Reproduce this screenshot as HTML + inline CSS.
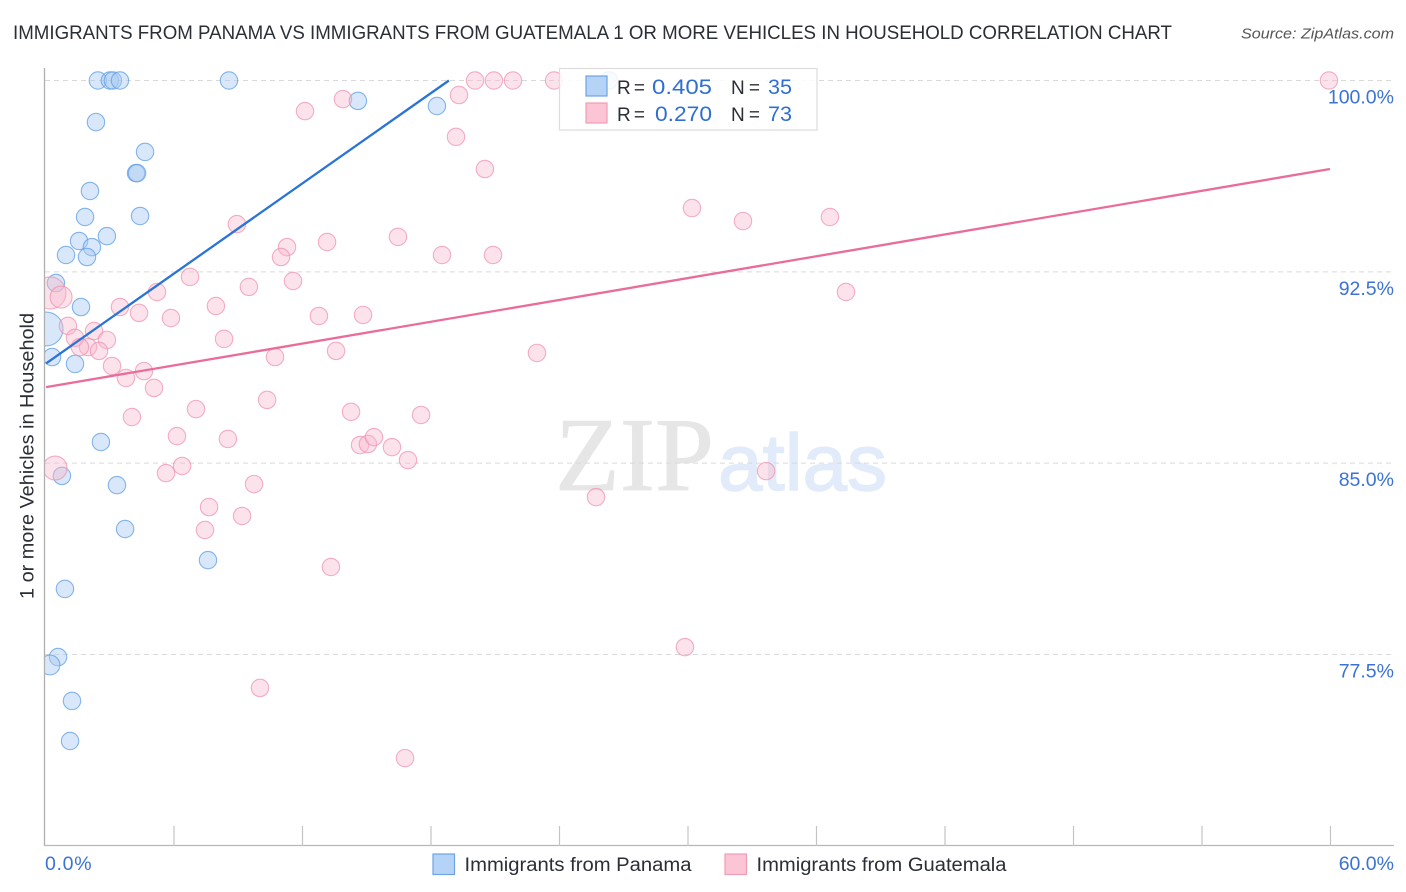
<!DOCTYPE html>
<html lang="en">
<head>
<meta charset="utf-8">
<title>Immigrants from Panama vs Immigrants from Guatemala correlation chart</title>
<style>
html,body{margin:0;padding:0;background:#fff;width:1406px;height:892px;overflow:hidden}
svg{display:block;font-family:"Liberation Sans",sans-serif}
</style>
</head>
<body>
<svg id="chart" xmlns="http://www.w3.org/2000/svg" width="1406" height="892" viewBox="0 0 1406 892">
  <defs>
    <clipPath id="plot-clip"><rect x="45" y="60" width="1349" height="786"/></clipPath>
  </defs>
  <rect x="0" y="0" width="1406" height="892" fill="#fff"/>
  <text x="13" y="39" font-size="19.5" fill="#2a2f36" textLength="1159" lengthAdjust="spacingAndGlyphs">IMMIGRANTS FROM PANAMA VS IMMIGRANTS FROM GUATEMALA 1 OR MORE VEHICLES IN HOUSEHOLD CORRELATION CHART</text>
  <text x="1241" y="38.5" font-size="15" font-style="italic" fill="#555" textLength="153" lengthAdjust="spacingAndGlyphs">Source: ZipAtlas.com</text>
  <g>
    <text x="555" y="490" font-family="'Liberation Serif',serif" font-size="105" fill="#e6e6e6" stroke="#e6e6e6" stroke-width="0.8" textLength="159" lengthAdjust="spacingAndGlyphs">ZIP</text>
    <text x="718" y="490" font-size="80" fill="#e2ebf9" stroke="#e2ebf9" stroke-width="1.4" textLength="169" lengthAdjust="spacingAndGlyphs">atlas</text>
  </g>
  <g id="grid"></g>
  <g id="axes"></g>
  <g id="points" clip-path="url(#plot-clip)"></g>
  <g id="trends"></g>
  <g id="tick-labels"></g>
  <text transform="translate(33.5,456) rotate(-90)" text-anchor="middle" font-size="19" fill="#2a2f36" textLength="286" lengthAdjust="spacingAndGlyphs">1 or more Vehicles in Household</text>

  <g>
    <rect x="559.5" y="68.5" width="257.5" height="61.5" fill="#fff" fill-opacity="0.85" stroke="#dcdcdc" stroke-width="1.2"/>
    <rect x="586" y="76" width="21" height="20" fill="#b5d2f7" stroke="#6fa3e4" stroke-width="1.2"/>
    <rect x="586" y="103" width="21" height="20" fill="#fcc5d6" stroke="#ef9db6" stroke-width="1.2"/>
    <text x="617" y="94" font-size="19" fill="#2a2f36" textLength="28" lengthAdjust="spacing">R =</text>
    <text x="652" y="94" font-size="21" fill="#2f6fd3" textLength="60" lengthAdjust="spacingAndGlyphs">0.405</text>
    <text x="731" y="94" font-size="19" fill="#2a2f36" textLength="29" lengthAdjust="spacing">N =</text>
    <text x="768" y="94" font-size="21" fill="#2f6fd3" textLength="24" lengthAdjust="spacingAndGlyphs">35</text>
    <text x="617" y="121" font-size="19" fill="#2a2f36" textLength="28" lengthAdjust="spacing">R =</text>
    <text x="655" y="121" font-size="21" fill="#2f6fd3" textLength="57" lengthAdjust="spacingAndGlyphs">0.270</text>
    <text x="731" y="121" font-size="19" fill="#2a2f36" textLength="29" lengthAdjust="spacing">N =</text>
    <text x="768" y="121" font-size="21" fill="#2f6fd3" textLength="24" lengthAdjust="spacingAndGlyphs">73</text>
  </g>

  <g>
    <rect x="433" y="854" width="21.5" height="20.5" fill="#b5d2f7" stroke="#6fa3e4" stroke-width="1.2"/>
    <text x="464.5" y="871" font-size="19" fill="#2a2f36" textLength="227" lengthAdjust="spacingAndGlyphs">Immigrants from Panama</text>
    <rect x="725" y="854" width="21.5" height="20.5" fill="#fcc5d6" stroke="#ef9db6" stroke-width="1.2"/>
    <text x="756.5" y="871" font-size="19" fill="#2a2f36" textLength="250" lengthAdjust="spacingAndGlyphs">Immigrants from Guatemala</text>
  </g>
</svg>
<script>
const panamaX = [2.47,3.03,3.17,3.50,8.59,26.33,2.38,14.61,18.30,4.67,4.25,4.30,2.10,1.87,4.44,2.89,1.59,2.19,1.96,0.98,0.51,1.68,0.05,0.33,1.40,2.61,0.79,3.36,3.74,7.61,0.93,0.61,0.23,1.26,1.17];
const panamaY = [100,100,100,100,100,100,98.37,99.20,99.00,97.20,96.37,96.37,95.67,94.65,94.69,93.90,93.71,93.47,93.08,93.16,92.06,91.12,90.26,89.16,88.89,85.83,84.50,84.14,82.42,81.20,80.07,77.40,77.09,75.68,74.11];
const panamaWeight = [1,1,1,1,1,1,1,1,1,1,1,1,1,1,1,1,1,1,1,1,1,1,3.8,1,1,1,1,1,1,1,1,1,1.3,1,1];

const guatemalaX = [59.95,23.77,20.08,20.96,21.85,19.33,13.91,12.14,19.19,20.54,30.21,32.59,36.65,8.96,16.48,13.17,11.30,11.02,18.54,20.92,6.77,11.58,9.52,37.40,5.23,0.23,0.75,3.50,7.98,4.39,5.88,12.79,14.85,1.07,2.29,8.36,1.40,2.89,2.01,1.63,2.52,13.59,10.74,22.97,3.13,4.62,3.78,5.09,10.37,7.05,4.06,14.29,17.56,6.16,8.54,14.71,15.08,15.36,16.20,16.95,6.40,5.65,0.47,33.67,9.76,25.73,7.66,9.20,7.47,13.35,29.88,10.04,16.81];
const guatemalaY = [100,100,100,100,100,99.43,99.27,98.80,97.79,96.53,95.00,94.49,94.65,94.37,93.87,93.67,93.47,93.08,93.16,93.16,92.30,92.14,91.91,91.71,91.71,91.67,91.51,91.12,91.16,90.89,90.69,90.77,90.81,90.38,90.18,89.87,89.91,89.83,89.55,89.55,89.40,89.40,89.16,89.32,88.81,88.61,88.34,87.95,87.48,87.12,86.81,87.01,86.89,86.06,85.95,85.71,85.75,86.02,85.63,85.12,84.89,84.61,84.81,84.69,84.18,83.67,83.28,82.93,82.38,80.93,77.79,76.19,73.44];
const guatemalaWeight = [1,1,1,1,1,1,1,1,1,1,1,1,1,1,1,1,1,1,1,1,1,1,1,1,1,3.4,1.6,1,1,1,1,1,1,1,1,1,1,1,1,1,1,1,1,1,1,1,1,1,1,1,1,1,1,1,1,1,1,1,1,1,1,1,1.9,1,1,1,1,1,1,1,1,1,1];

const panamaTrendX = [0.05, 18.86];
const panamaTrendY = [88.91, 100];
const guatemalaTrendX = [0.05, 60];
const guatemalaTrendY = [87.98, 96.53];

const yTicks = [100, 92.5, 85, 77.5];
const yTickLabels = ['100.0%', '92.5%', '85.0%', '77.5%'];
const xTicks = [6, 12, 18, 24, 30, 36, 42, 48, 54, 60];
const xEndTickLabels = ['0.0%', '60.0%'];

const SVG_NS = 'http://www.w3.org/2000/svg';
function xScale(v) { return 45 + v * (1285 / 60); }
function yScale(v) { return 80.5 + (100 - v) * (574 / 22.5); }
function make(tag, attrs, parent) {
  const el = document.createElementNS(SVG_NS, tag);
  Object.keys(attrs).forEach(function (k) { el.setAttribute(k, attrs[k]); });
  parent.appendChild(el);
  return el;
}

const grid = document.getElementById('grid');
yTicks.forEach(function (t) {
  const el = make('line', {x1: 45, x2: 1394, y1: yScale(t), y2: yScale(t), stroke: '#d9d9d9', 'stroke-width': 1, 'stroke-dasharray': '5 4'}, grid);
  
  
});

const axes = document.getElementById('axes');
const yAxisLine = make('line', {x1: 44.5, x2: 44.5, y1: 68, y2: 846, stroke: '#b0b0b0', 'stroke-width': 1.3}, axes);


const xAxisLine = make('line', {x1: 44, x2: 1394, y1: 845.5, y2: 845.5, stroke: '#b8b8b8', 'stroke-width': 1.3}, axes);


xTicks.forEach(function (t) {
  const el = make('line', {x1: xScale(t) + 0.5, x2: xScale(t) + 0.5, y1: 826, y2: 846, stroke: '#c4c4c4', 'stroke-width': 1.2}, axes);
  
  
});

const labels = document.getElementById('tick-labels');
yTicks.forEach(function (t, i) {
  const el = make('text', {x: 1394, y: yScale(t) + 23, 'text-anchor': 'end', 'font-size': 19.5, fill: '#3b72d4'}, labels);
  
  
  el.textContent = yTickLabels[i];
});
const xLabelLeft = make('text', {x: 45, y: 870, 'font-size': 19.5, 'letter-spacing': 0.7, fill: '#3b72d4'}, labels);


xLabelLeft.textContent = xEndTickLabels[0];
const xLabelRight = make('text', {x: 1394, y: 870, 'text-anchor': 'end', 'font-size': 19.5, fill: '#3b72d4'}, labels);


xLabelRight.textContent = xEndTickLabels[1];

const points = document.getElementById('points');
function radius(w) { return 8.7 * Math.sqrt(w); }
panamaX.forEach(function (v, i) {
  const c = make('circle', {cx: xScale(v), cy: yScale(panamaY[i]), r: radius(panamaWeight[i]), fill: '#a9caf3', 'fill-opacity': 0.46, stroke: '#5f9de6', 'stroke-opacity': 0.75, 'stroke-width': 1.1}, points);
  
  
});
guatemalaX.forEach(function (v, i) {
  const c = make('circle', {cx: xScale(v), cy: yScale(guatemalaY[i]), r: radius(guatemalaWeight[i]), fill: '#f9b9cd', 'fill-opacity': 0.42, stroke: '#ee8fad', 'stroke-opacity': 0.7, 'stroke-width': 1.1}, points);
  
  
});

const trends = document.getElementById('trends');
const panamaLine = make('line', {x1: xScale(panamaTrendX[0]), y1: yScale(panamaTrendY[0]), x2: xScale(panamaTrendX[1]), y2: yScale(panamaTrendY[1]), stroke: '#2a74d8', 'stroke-width': 2.3}, trends);


const guatemalaLine = make('line', {x1: xScale(guatemalaTrendX[0]), y1: yScale(guatemalaTrendY[0]), x2: xScale(guatemalaTrendX[1]), y2: yScale(guatemalaTrendY[1]), stroke: '#ea6c9a', 'stroke-width': 2.3}, trends);


</script>
</body>
</html>
